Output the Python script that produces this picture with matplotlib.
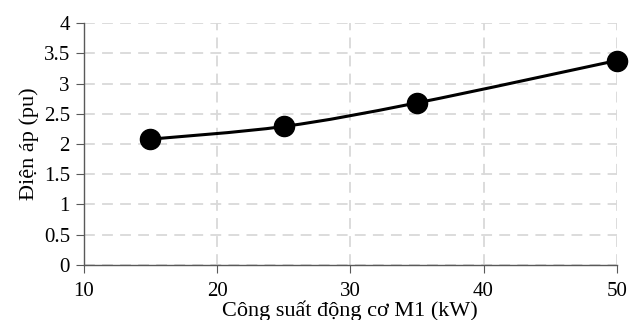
import numpy as np
import matplotlib.pyplot as plt
from matplotlib.path import Path
from matplotlib.patches import PathPatch

plt.rcParams['font.family'] = ['Liberation Serif', 'DejaVu Serif']

power_kw = [15, 25, 35, 50]
voltage_pu = [2.08, 2.29, 2.68, 3.38]
x_ticks = [10, 20, 30, 40, 50]
y_ticks = [0, 0.5, 1, 1.5, 2, 2.5, 3, 3.5, 4]
y_tick_labels = ['0', '0.5', '1', '1.5', '2', '2.5', '3', '3.5', '4']


def smooth_path(xs, ys):
    # bezier segments with Catmull-Rom style control points (spreadsheet "smoothed line")
    pts = np.column_stack([xs, ys]).astype(float)
    n = len(pts)
    verts = [pts[0]]
    codes = [Path.MOVETO]
    for i in range(n - 1):
        p0 = pts[i - 1] if i > 0 else pts[i]
        p1 = pts[i]
        p2 = pts[i + 1]
        p3 = pts[i + 2] if i + 2 < n else pts[i + 1]
        c1 = p1 + (p2 - p0) / 6
        c2 = p2 - (p3 - p1) / 6
        verts += [c1, c2, p2]
        codes += [Path.CURVE4] * 3
    return Path(verts, codes)


fig = plt.figure(figsize=(6.3, 3.2), dpi=100)
ax = fig.add_axes([0.133, 0.172, 0.846, 0.756])

ax.add_patch(PathPatch(smooth_path(power_kw, voltage_pu), facecolor='none',
                       edgecolor='black', lw=2.2, zorder=3))
ax.plot(power_kw, voltage_pu, linestyle='none', marker='o', markersize=14.5,
        color='black', zorder=4, clip_on=False)

ax.set_xlim(10, 50)
ax.set_ylim(0, 4)
ax.set_xticks(x_ticks)
ax.set_yticks(y_ticks)
ax.set_yticklabels(y_tick_labels)

ax.grid(True, color='#d9d9d9', linestyle=(0, (6, 4)), linewidth=1.3)
ax.set_axisbelow(True)
for side in ['top', 'right']:
    ax.spines[side].set_visible(False)
for side in ['left', 'bottom']:
    ax.spines[side].set_color('#595959')
    ax.spines[side].set_linewidth(1.0)

ax.tick_params(axis='both', labelsize=15, length=6, color='#595959')
ax.tick_params(axis='x', pad=6)
ax.tick_params(axis='y', pad=4)
ax.set_xlabel('Công suất động cơ M1 (kW)', fontsize=16, labelpad=0)
ax.set_ylabel('Điện áp (pu)', fontsize=16, labelpad=3)

plt.savefig('out.png', dpi=100)
